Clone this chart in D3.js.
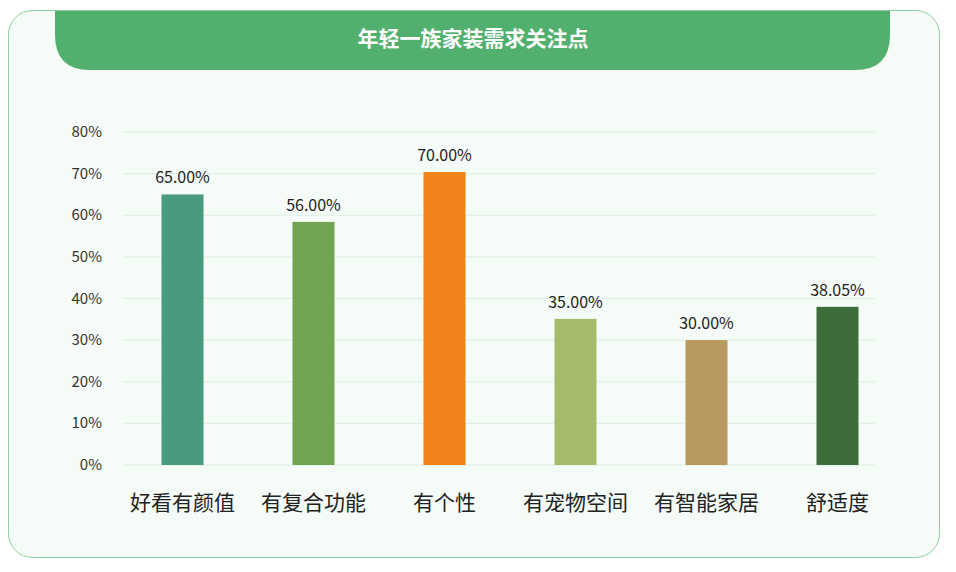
<!DOCTYPE html>
<html><head><meta charset="utf-8">
<script src="https://cdn.jsdelivr.net/npm/d3@7"></script>
<style>body{margin:0;background:#fff}</style>
</head><body>
<svg id="chart" width="956" height="572"></svg>
<script>
// Chart data
const categories = ["好看有颜值", "有复合功能", "有个性", "有宠物空间", "有智能家居", "舒适度"]
const barValues = [65, 58.4, 70.4, 35.1, 30, 38]
const valueLabels = ["65.00%", "56.00%", "70.00%", "35.00%", "30.00%", "38.05%"]
const barColors = ["#4a9a7e", "#6fa452", "#f0821a", "#a3bb6b", "#b89a5f", "#3e6d3c"]
const yTicks = [0, 10, 20, 30, 40, 50, 60, 70, 80]

const svg = d3.select("#chart")
const font = "'Noto Sans CJK SC', 'Noto Sans', sans-serif"

// Card background and header band
svg.append("rect").attr("x", 8.5).attr("y", 10.5).attr("width", 931).attr("height", 547)
  .attr("rx", 24).attr("fill", "#f5fbf6").attr("stroke", "#8fcf9f").attr("stroke-width", 1)
svg.append("path")
  .attr("d", "M55,11 L890,11 L890,35 Q890,70 855,70 L90,70 Q55,70 55,35 Z")
  .attr("fill", "#52b06e")
svg.append("text").attr("x", 473).attr("y", 46).attr("text-anchor", "middle")
  .attr("fill", "#fff").attr("font-family", font).attr("font-weight", "bold")
  .attr("font-size", 21).text("年轻一族家装需求关注点")

const x = d3.scaleBand().domain(categories).range([117, 903]).paddingInner(0.32).paddingOuter(0.16)
const y = d3.scaleLinear().domain([0, 80]).range([465, 132])

// Gridlines and y labels
const grid = svg.append("g")
grid.selectAll("line").data(yTicks).enter().append("line")
  .attr("x1", 123).attr("x2", 875)
  .attr("y1", d => y(d)).attr("y2", d => y(d))
  .attr("stroke", "#dcefe3").attr("stroke-width", 1)
grid.selectAll("text").data(yTicks).enter().append("text")
  .attr("x", 102).attr("y", d => y(d) + 5).attr("text-anchor", "end")
  .attr("font-family", font).attr("font-size", 15).attr("fill", "#333")
  .text(d => d + "%")

// Bars
svg.append("g").selectAll("rect").data(categories).enter().append("rect")
  .attr("x", d => x(d) + (x.bandwidth() - 42) / 2)
  .attr("width", 42)
  .attr("y", (d, i) => y(barValues[i]))
  .attr("height", (d, i) => y(0) - y(barValues[i]))
  .attr("fill", (d, i) => barColors[i])

// Value labels
svg.append("g").selectAll("text").data(categories).enter().append("text")
  .attr("x", d => x(d) + x.bandwidth() / 2)
  .attr("y", (d, i) => y(barValues[i]) - 11)
  .attr("text-anchor", "middle").attr("font-family", font)
  .attr("font-size", 16).attr("fill", "#222")
  .text((d, i) => valueLabels[i])

// Category labels
svg.append("g").selectAll("text").data(categories).enter().append("text")
  .attr("x", d => x(d) + x.bandwidth() / 2)
  .attr("y", 510).attr("text-anchor", "middle").attr("font-family", font)
  .attr("font-size", 21).attr("fill", "#222")
  .text(d => d)
</script>
</body></html>
